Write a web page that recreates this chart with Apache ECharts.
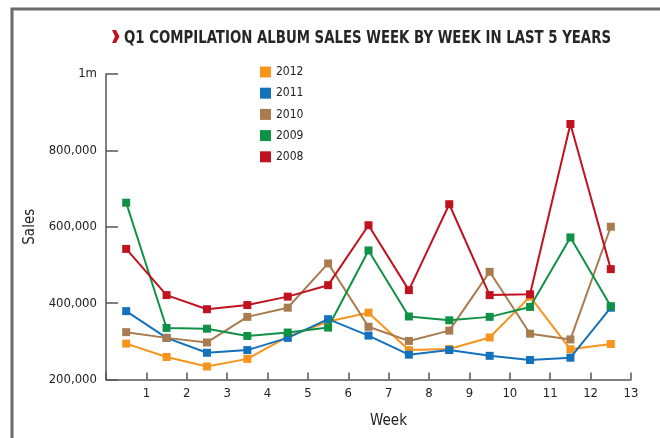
<!DOCTYPE html>
<html>
<head>
<meta charset="utf-8">
<script src="https://cdn.jsdelivr.net/npm/echarts@6/dist/echarts.min.js"></script>
<style>
html,body{margin:0;padding:0;background:#fff;}
#chart{width:660px;height:438px;}
</style>
</head>
<body>
<div id="chart"></div>
<script>
const titleText = 'Q1 COMPILATION ALBUM SALES WEEK BY WEEK IN LAST 5 YEARS';
const weeks = [1,2,3,4,5,6,7,8,9,10,11,12,13];
const xTickLabels = ['','1','2','3','4','5','6','7','8','9','10','11','12','13'];
const yTickLabels = {200000:'200,000',400000:'400,000',600000:'600,000',800000:'800,000',1000000:'1m'};
const seriesNames = ['2012','2011','2010','2009','2008'];
const sales2012 = [294000,259000,234000,254000,312000,352000,375000,277000,280000,310000,417000,279000,293000];
const sales2011 = [379000,309000,270000,277000,309000,358000,315000,265000,277000,262000,251000,257000,388000];
const sales2010 = [324000,309000,297000,364000,388000,504000,338000,301000,328000,482000,320000,305000,600000];
const sales2009 = [663000,335000,333000,314000,323000,336000,538000,365000,355000,364000,390000,572000,392000];
const sales2008 = [542000,421000,384000,395000,417000,447000,604000,434000,659000,421000,423000,869000,489000];
const colors = ['#F7941D','#1471BB','#A97C50','#0F9146','#C1121F'];

const allSales = [sales2012,sales2011,sales2010,sales2009,sales2008];
const font = "'DejaVu Sans Condensed','Liberation Sans Narrow',sans-serif";
const titleFont = "'DejaVu Sans Condensed'";
const titleSize = 18;

// measure title width to condense it into the reference's span
const mc = document.createElement('canvas').getContext('2d');
mc.font = 'bold ' + titleSize + 'px ' + titleFont;
const titleW = mc.measureText(titleText).width;
const titleScale = 487 / titleW;

const chart = echarts.init(document.getElementById('chart'), null, {renderer:'canvas'});
const drawOrder = [4,3,2,1,0];
const series = drawOrder.map(i => ({
  name: seriesNames[i],
  type: 'line',
  data: weeks.map((w, j) => [w - 0.5, allSales[i][j]]),
  symbol: 'rect',
  symbolSize: 8,
  showAllSymbol: true,
  lineStyle: {width: 2, color: colors[i]},
  itemStyle: {color: colors[i]},
  emphasis: {disabled: true},
  animation: false,
  z: 2 + i
}));

chart.setOption({
  animation: false,
  textStyle: {fontFamily: font},
  grid: {left: 106, right: 29, top: 74, bottom: 58.5, containLabel: false},
  legend: {
    orient: 'vertical', left: 255, top: 61,
    itemWidth: 11, itemHeight: 11, itemGap: 9.2, itemTextGap: 7,
    icon: 'rect',
    data: seriesNames,
    textStyle: {fontFamily: font, fontSize: 12, color: '#222'}
  },
  xAxis: {
    type: 'value', min: 0, max: 13, interval: 1,
    name: 'Week', nameLocation: 'middle', nameGap: 34,
    nameTextStyle: {fontFamily: font, fontSize: 15, color: '#222', padding: [0,0,0,40]},
    axisLine: {lineStyle: {color: '#555', width: 1.5}},
    axisTick: {inside: true, length: 7, lineStyle: {color: '#555', width: 1.5}},
    axisLabel: {margin: 8, fontFamily: font, fontSize: 13, color: '#222',
      formatter: v => xTickLabels[v] || ''},
    splitLine: {show: false}
  },
  yAxis: {
    type: 'value', min: 200000, max: 1000000, interval: 200000,
    name: 'Sales', nameLocation: 'middle', nameGap: 57, nameRotate: 90,
    nameTextStyle: {fontFamily: font, fontSize: 15, color: '#222'},
    axisLine: {show: true, lineStyle: {color: '#555', width: 1.5}},
    axisTick: {show: true, inside: true, length: 12, lineStyle: {color: '#555', width: 1.5}},
    axisLabel: {margin: 9, fontFamily: font, fontSize: 13, color: '#222',
      formatter: v => yTickLabels[v] || ''},
    splitLine: {show: false}
  },
  graphic: [
    {type: 'rect', shape: {x: 12, y: 9, width: 700, height: 500},
     style: {fill: 'none', stroke: '#6b6b6b', lineWidth: 3}, silent: true},
    {type: 'polygon', shape: {points: [[112,30],[116,30],[119.5,36.5],[116,43],[112,43],[115,36.5]]},
     style: {fill: '#C1121F'}, silent: true},
    {type: 'text', x: 124, y: 29, scaleX: titleScale, scaleY: 1,
     style: {text: titleText, fontFamily: titleFont, fontWeight: 'bold', fontSize: titleSize, fill: '#262626'}}
  ],
  series: series
});
</script>
</body>
</html>
